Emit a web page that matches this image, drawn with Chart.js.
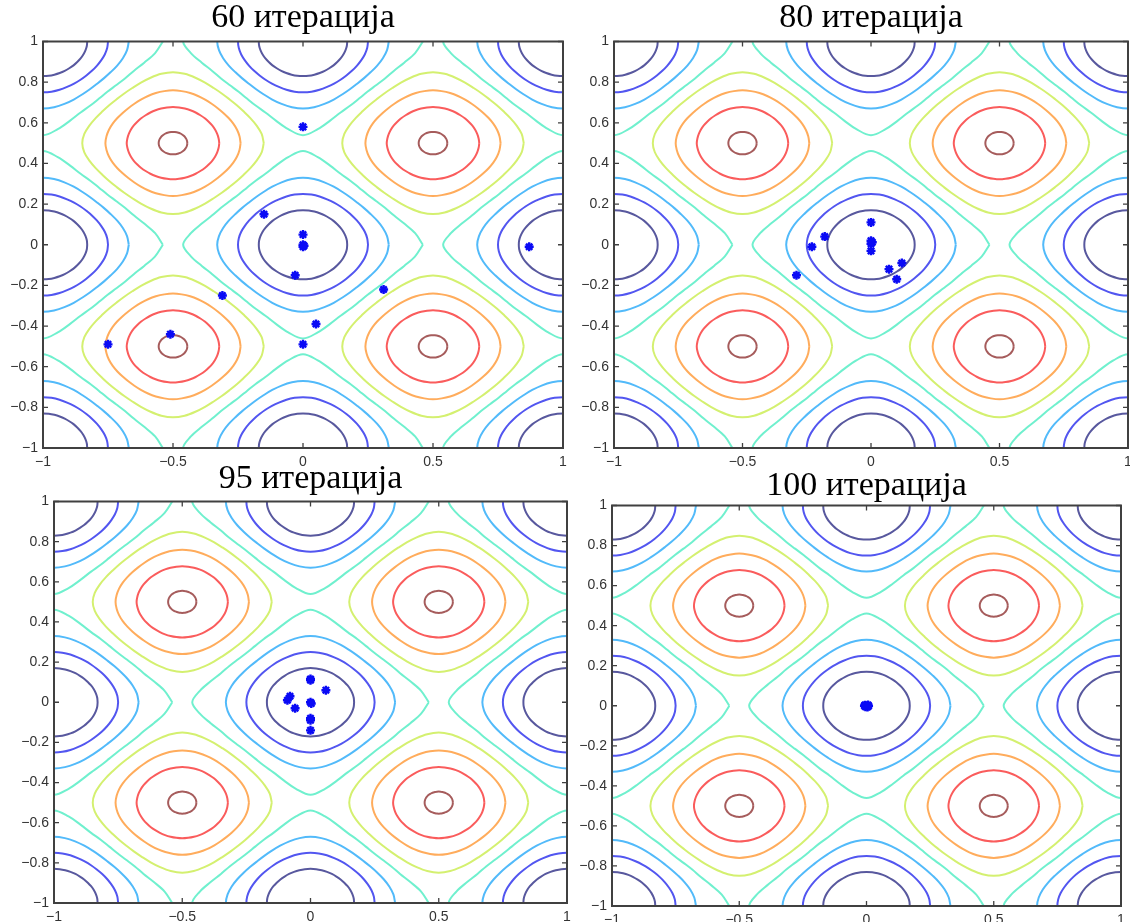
<!DOCTYPE html>
<html>
<head>
<meta charset="utf-8">
<script src="https://cdn.jsdelivr.net/npm/chart.js@4.4.0/dist/chart.umd.min.js"></script>
<style>
  html, body { margin: 0; padding: 0; background: #fff; width: 1130px; height: 922px; overflow: hidden; position: relative; }
  canvas { position: absolute; }
</style>
</head>
<body>
<canvas id="c0"></canvas>
<canvas id="c1"></canvas>
<canvas id="c2"></canvas>
<canvas id="c3"></canvas>
<script>
// Panel titles
const titles = ['60 итерација', '80 итерација', '95 итерација', '100 итерација'];

// Axis ticks
const xTicks = [-1, -0.5, 0, 0.5, 1];
const yTicks = [-1, -0.8, -0.6, -0.4, -0.2, 0, 0.2, 0.4, 0.6, 0.8, 1];

// Contour rings: radius read every 7.5 degrees from 0 to 45 (the rest is mirrored)
const ringAngles = [0, 7.5, 15, 22.5, 30, 37.5, 45];

// rings round the minima (blue side), inner to outer
const lowCenters = [[-1, -1], [-1, 0], [-1, 1], [0, -1], [0, 0], [0, 1], [1, -1], [1, 0], [1, 1]];
const lowRadii = [
    [0.170, 0.170, 0.169, 0.168, 0.167, 0.166, 0.166],  // navy
    [0.250, 0.249, 0.246, 0.242, 0.239, 0.237, 0.236],  // blue
    [0.330, 0.326, 0.318, 0.309, 0.301, 0.296, 0.294],  // light blue
    [0.461, 0.435, 0.403, 0.378, 0.364, 0.354, 0.350]   // aquamarine
];
const lowColors = ['rgb(88,88,158)', 'rgb(82,86,240)', 'rgb(82,186,250)', 'rgb(112,240,206)'];

// rings round the maxima (red side), outer to inner
const highCenters = [[-0.5, -0.5], [-0.5, 0.5], [0.5, -0.5], [0.5, 0.5]];
const highRadii = [
    [0.349, 0.344, 0.333, 0.322, 0.313, 0.308, 0.306],  // yellow-green
    [0.260, 0.258, 0.255, 0.251, 0.247, 0.244, 0.243],  // orange
    [0.178, 0.177, 0.176, 0.175, 0.174, 0.173, 0.173],  // red
    [0.055, 0.055, 0.055, 0.055, 0.055, 0.055, 0.055]   // brown
];
const highColors = ['rgb(212,240,112)', 'rgb(255,172,92)', 'rgb(250,92,92)', 'rgb(166,92,92)'];

// Particle positions for every snapshot
const swarm60 = [[0, 0.58], [-0.15, 0.15], [0, 0.05], [0, 0], [0, -0.01], [0.004, -0.005],
    [-0.03, -0.15], [-0.31, -0.25], [0.31, -0.22], [0.05, -0.39], [-0.51, -0.44],
    [-0.75, -0.49], [0, -0.49], [0.87, -0.01]];
const swarm80 = [[0, 0.11], [-0.18, 0.04], [-0.23, -0.01], [0, 0.02], [0, 0.005], [0.005, 0.012],
    [0, -0.03], [-0.29, -0.15], [0.07, -0.12], [0.12, -0.09], [0.1, -0.17]];
const swarm95 = [[0, 0.11], [0, 0.116], [0.06, 0.06], [-0.08, 0.03], [-0.09, 0.01], [-0.06, -0.03],
    [0, 0], [0.003, -0.006], [0, -0.08], [0, -0.09], [0, -0.14]];
const swarm100 = [[0, 0], [0.006, 0.004], [-0.006, 0.003], [0.004, -0.006], [-0.004, -0.005],
    [0.008, -0.001], [-0.008, 0]];

// Where each panel sits on the page (plot box in px, titleY = middle of title line)
const panels = [
    { id: 'c0', title: titles[0], swarm: swarm60, left: 43, top: 41, right: 563, bottom: 448, titleY: 17.5 },
    { id: 'c1', title: titles[1], swarm: swarm80, left: 614, top: 41, right: 1128, bottom: 448, titleY: 17.5 },
    { id: 'c2', title: titles[2], swarm: swarm95, left: 54, top: 501, right: 567, bottom: 903, titleY: 478.5 },
    { id: 'c3', title: titles[3], swarm: swarm100, left: 612, top: 505, right: 1121, bottom: 906, titleY: 485.5 }
];

const AXIS_W = 45;
const AXIS_H = 26;
const TITLE_SIZE = 34;

// Build a closed ring from the radii (mirrored into all eight octants)
function ringPoints(center, radii) {
    const step = ringAngles[1];
    const pts = [];
    for (let k = 0; k <= 360 / step; k++) {
        const deg = k * step;
        let b = deg % 90;
        if (b > 45) b = 90 - b;
        const r = radii[Math.round(b / step)];
        const a = deg * Math.PI / 180;
        pts.push({ x: center[0] + r * Math.cos(a), y: center[1] + r * Math.sin(a) });
    }
    return pts;
}

function contourDatasets() {
    const sets = [];
    lowRadii.forEach((radii, i) => {
        lowCenters.forEach(c => sets.push(lineSet(ringPoints(c, radii), lowColors[i])));
    });
    highRadii.forEach((radii, i) => {
        highCenters.forEach(c => sets.push(lineSet(ringPoints(c, radii), highColors[i])));
    });
    return sets;
}

function lineSet(points, color) {
    return {
        data: points,
        showLine: true,
        borderColor: color,
        borderWidth: 2,
        pointRadius: 0,
        tension: 0.35,
        fill: false
    };
}

function tickLabel(v) {
    return String(v).replace('-', '\u2212');
}

// Box round the plot with inward ticks on all sides
const framePlugin = {
    id: 'frame',
    afterDraw(chart) {
        const ctx = chart.ctx;
        const a = chart.chartArea;
        const sx = chart.scales.x;
        const sy = chart.scales.y;
        ctx.save();
        ctx.strokeStyle = '#404040';
        ctx.lineWidth = 1.3;
        ctx.beginPath();
        xTicks.forEach(v => {
            const px = sx.getPixelForValue(v);
            ctx.moveTo(px, a.bottom); ctx.lineTo(px, a.bottom - 5);
            ctx.moveTo(px, a.top); ctx.lineTo(px, a.top + 5);
        });
        yTicks.forEach(v => {
            const py = sy.getPixelForValue(v);
            ctx.moveTo(a.left, py); ctx.lineTo(a.left + 5, py);
            ctx.moveTo(a.right, py); ctx.lineTo(a.right - 5, py);
        });
        ctx.stroke();
        ctx.lineWidth = 2;
        ctx.strokeRect(a.left, a.top, a.right - a.left, a.bottom - a.top);
        ctx.restore();
    }
};

function buildChart(p) {
    const canvas = document.getElementById(p.id);
    const canvasTop = p.titleY - TITLE_SIZE / 2;
    const canvasLeft = p.left - AXIS_W;
    const width = (p.right - p.left) + 2 * AXIS_W;
    const height = (p.bottom - canvasTop) + AXIS_H;
    canvas.width = width;
    canvas.height = height;
    canvas.style.left = canvasLeft + 'px';
    canvas.style.top = canvasTop + 'px';
    canvas.style.width = width + 'px';
    canvas.style.height = height + 'px';

    const tickFont = { family: '"Liberation Sans", Arial, sans-serif', size: 14 };

    const swarmSet = {
        data: p.swarm.map(([x, y]) => ({ x, y })),
        pointStyle: 'star',
        pointRadius: 4.5,
        borderColor: '#0a0af5',
        backgroundColor: '#0a0af5',
        pointBorderWidth: 2.4,
        showLine: false
    };

    new Chart(canvas, {
        type: 'scatter',
        data: { datasets: [swarmSet].concat(contourDatasets()) },
        options: {
            responsive: false,
            animation: false,
            devicePixelRatio: 1,
            events: [],
            layout: { padding: 0 },
            elements: { line: { capBezierPoints: false } },
            plugins: {
                legend: { display: false },
                tooltip: { enabled: false },
                title: {
                    display: true,
                    text: p.title,
                    color: '#000',
                    font: { family: '"Liberation Serif", "Times New Roman", serif', size: TITLE_SIZE, weight: 'normal', lineHeight: 1 },
                    padding: { top: 0, bottom: p.top - canvasTop - TITLE_SIZE }
                }
            },
            scales: {
                x: {
                    type: 'linear',
                    min: -1,
                    max: 1,
                    afterBuildTicks: s => { s.ticks = xTicks.map(v => ({ value: v })); },
                    afterFit: s => { s.height = AXIS_H; },
                    grid: { display: false, drawTicks: false },
                    border: { display: false },
                    ticks: { font: tickFont, color: '#333', padding: 6, maxRotation: 0, callback: tickLabel }
                },
                y: {
                    type: 'linear',
                    min: -1,
                    max: 1,
                    afterBuildTicks: s => { s.ticks = yTicks.map(v => ({ value: v })); },
                    afterFit: s => { s.width = AXIS_W; },
                    grid: { display: false, drawTicks: false },
                    border: { display: false },
                    ticks: { font: tickFont, color: '#333', padding: 5, callback: tickLabel }
                },
                // empty right-hand axis so the plot (and the title) sit centred in the canvas
                yRight: {
                    type: 'linear',
                    position: 'right',
                    min: -1,
                    max: 1,
                    afterFit: s => { s.width = AXIS_W; },
                    grid: { display: false, drawTicks: false },
                    border: { display: false },
                    ticks: { display: false }
                }
            }
        },
        plugins: [framePlugin]
    });
}

panels.forEach(buildChart);
</script>
</body>
</html>
